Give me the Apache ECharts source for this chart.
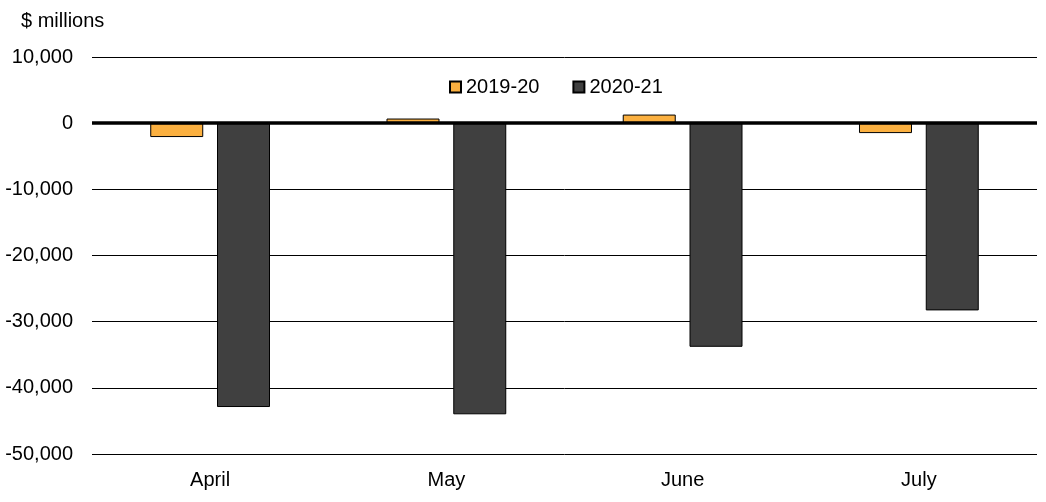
<!DOCTYPE html>
<html><head><meta charset="utf-8">
<script src="https://cdn.jsdelivr.net/npm/echarts@6/dist/echarts.min.js"></script>
<style>html,body{margin:0;padding:0;background:#fff}#c{width:1046px;height:502px}</style>
</head><body><div id="c"></div>
<script>
const categories = ['April', 'May', 'June', 'July'];
const series2019 = [-2100, 700, 1300, -1500];
const series2020 = [-42900, -44000, -33800, -28300];
const seriesNames = ['2019-20', '2020-21'];
const yTicks = { min: -50000, max: 10000, interval: 10000 };

const font = 'Liberation Sans, Arial, sans-serif';
const chart = echarts.init(document.getElementById('c'), null, { renderer: 'canvas' });
chart.setOption({
  animation: false,
  backgroundColor: '#fff',
  title: { text: '$ millions', left: 16, top: 6, textStyle: { fontFamily: font, fontSize: 20, fontWeight: 'normal', color: '#000' } },
  legend: {
    data: seriesNames, top: 72, left: 444, itemWidth: 11, itemHeight: 11, itemGap: 33,
    icon: 'rect',
    textStyle: { fontFamily: font, fontSize: 20, color: '#000' }
  },
  grid: { left: 92, right: 9, top: 57, bottom: 48, containLabel: false },
  xAxis: {
    type: 'category', data: categories,
    axisLine: { show: false }, axisTick: { show: false },
    axisLabel: { fontFamily: font, fontSize: 20, color: '#000', margin: 16 }
  },
  yAxis: {
    type: 'value', min: yTicks.min, max: yTicks.max, interval: yTicks.interval,
    axisLine: { show: false }, axisTick: { show: false },
    splitLine: { lineStyle: { color: '#000', width: 1 } },
    axisLabel: {
      fontFamily: font, fontSize: 20, color: '#000', margin: 19,
      formatter: v => v.toLocaleString('en-US')
    }
  },
  series: [
    {
      name: seriesNames[0], type: 'bar', data: series2019, barWidth: 53, barGap: '26%',
      itemStyle: { color: '#FBB040', borderColor: '#000', borderWidth: 1 },
      markLine: {
        silent: true, symbol: 'none', label: { show: false },
        lineStyle: { color: '#000', width: 3.5, type: 'solid' },
        data: [{ yAxis: 0 }], z: 10
      }
    },
    {
      name: seriesNames[1], type: 'bar', data: series2020, barWidth: 53, barGap: '26%',
      itemStyle: { color: '#404040', borderColor: '#000', borderWidth: 1 }
    }
  ]
});
</script></body></html>
